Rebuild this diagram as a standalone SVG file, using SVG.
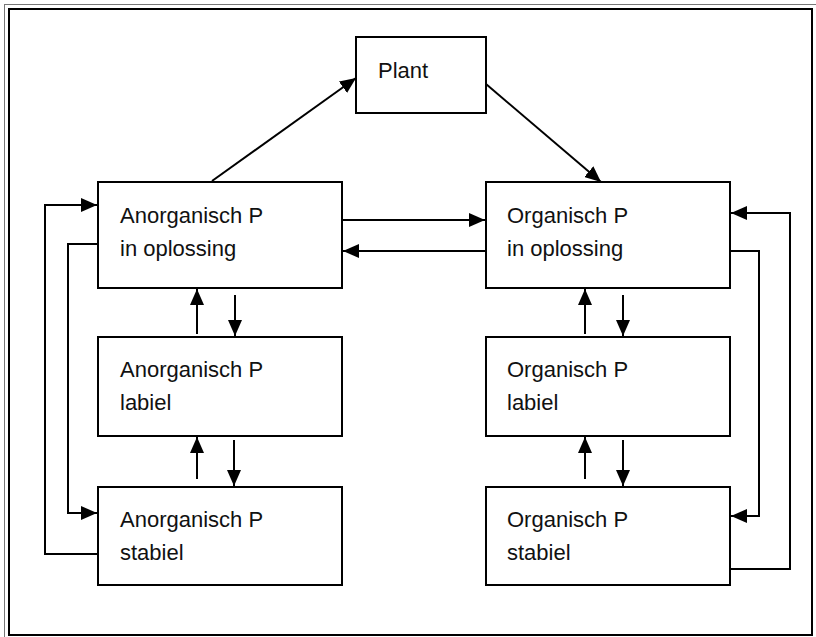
<svg xmlns="http://www.w3.org/2000/svg" width="816" height="637" viewBox="0 0 816 637">
<style>
.box{fill:#fff;stroke:#000;stroke-width:2}
.lbl{font-family:"Liberation Sans",Arial,sans-serif;font-size:22px;fill:#111}
.ln{fill:none;stroke:#000;stroke-width:2}
</style>
<defs>
<marker id="ah" viewBox="0 0 16 14" refX="16" refY="7" markerWidth="16" markerHeight="14" markerUnits="userSpaceOnUse" orient="auto">
<path d="M0,0 L16,7 L0,14 Z" fill="#000"/>
</marker>
</defs>
<rect x="0" y="0" width="816" height="637" fill="#fff"/>
<g id="frame">
<rect x="4.5" y="4.5" width="830" height="650" fill="none" stroke="#777" stroke-width="1"/>
<rect x="9" y="9" width="803" height="626" fill="none" stroke="#000" stroke-width="2"/>
</g>
<g id="connectors" class="ln">
<line x1="212" y1="181" x2="356" y2="78" marker-end="url(#ah)"/>
<line x1="486" y1="84" x2="601" y2="182" marker-end="url(#ah)"/>
<line x1="342" y1="220" x2="485" y2="220" marker-end="url(#ah)"/>
<line x1="485" y1="251" x2="343" y2="251" marker-end="url(#ah)"/>
<line x1="197" y1="334" x2="197" y2="289" marker-end="url(#ah)"/>
<line x1="235" y1="295" x2="235" y2="336" marker-end="url(#ah)"/>
<line x1="197" y1="479" x2="197" y2="437" marker-end="url(#ah)"/>
<line x1="234" y1="440" x2="234" y2="486" marker-end="url(#ah)"/>
<line x1="585" y1="334" x2="585" y2="289" marker-end="url(#ah)"/>
<line x1="623" y1="295" x2="623" y2="336" marker-end="url(#ah)"/>
<line x1="585" y1="479" x2="585" y2="437" marker-end="url(#ah)"/>
<line x1="623" y1="440" x2="623" y2="486" marker-end="url(#ah)"/>
<polyline points="98,554 45,554 45,205 97,205" marker-end="url(#ah)"/>
<polyline points="98,244 68,244 68,513 97,513" marker-end="url(#ah)"/>
<polyline points="730,569 790,569 790,213 731,213" marker-end="url(#ah)"/>
<polyline points="730,251 759,251 759,516 731,516" marker-end="url(#ah)"/>
</g>
<g id="plant">
<rect class="box" x="356" y="37" width="130" height="76"/>
<text class="lbl" x="378" y="78">Plant</text>
</g>
<g id="anorg-oplossing">
<rect class="box" x="98" y="182" width="244" height="106"/>
<text class="lbl" x="120" y="223">Anorganisch P</text>
<text class="lbl" x="120" y="256">in oplossing</text>
</g>
<g id="org-oplossing">
<rect class="box" x="486" y="182" width="244" height="106"/>
<text class="lbl" x="507" y="223">Organisch P</text>
<text class="lbl" x="507" y="256">in oplossing</text>
</g>
<g id="anorg-labiel">
<rect class="box" x="98" y="337" width="244" height="99"/>
<text class="lbl" x="120" y="377">Anorganisch P</text>
<text class="lbl" x="120" y="410">labiel</text>
</g>
<g id="org-labiel">
<rect class="box" x="486" y="337" width="244" height="99"/>
<text class="lbl" x="507" y="377">Organisch P</text>
<text class="lbl" x="507" y="410">labiel</text>
</g>
<g id="anorg-stabiel">
<rect class="box" x="98" y="487" width="244" height="98"/>
<text class="lbl" x="120" y="527">Anorganisch P</text>
<text class="lbl" x="120" y="560">stabiel</text>
</g>
<g id="org-stabiel">
<rect class="box" x="486" y="487" width="244" height="98"/>
<text class="lbl" x="507" y="527">Organisch P</text>
<text class="lbl" x="507" y="560">stabiel</text>
</g>
</svg>
